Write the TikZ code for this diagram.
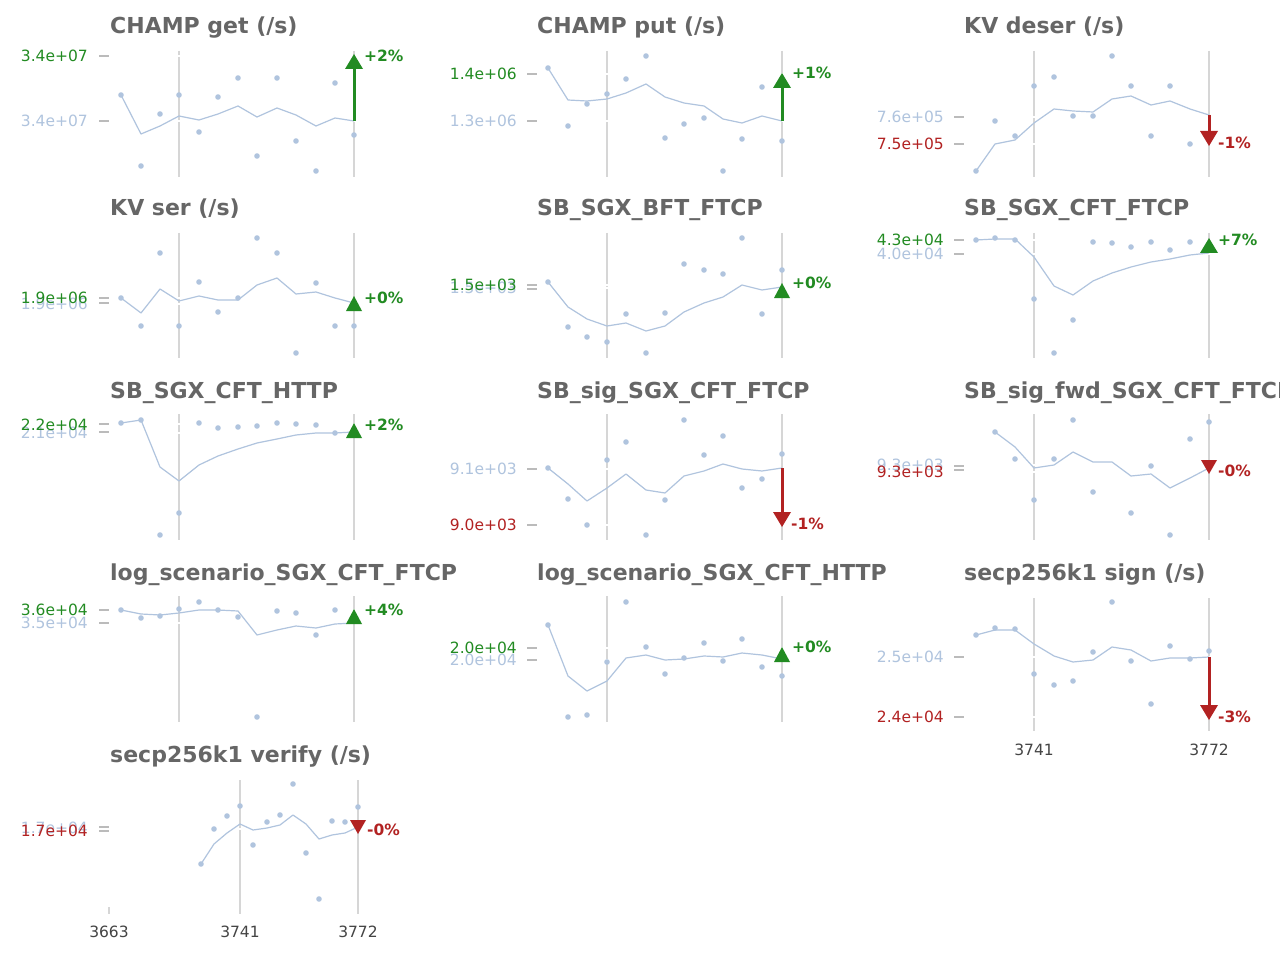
\documentclass[tikz,border=0pt]{standalone}
\usepackage{fontspec}
\setmainfont{DejaVu Sans}
\definecolor{lsb}{HTML}{B0C4DE}
\definecolor{fgc}{HTML}{228B22}
\definecolor{fbc}{HTML}{B22222}
\definecolor{ttlc}{HTML}{666666}
\definecolor{vlc}{HTML}{D6D6D6}
\definecolor{tkc}{HTML}{BBBBBB}
\definecolor{xlc}{HTML}{444444}
\newcommand\mygaps[2]{\foreach \gx in {#1}{\foreach \gy in {#2}{\draw[gapl] (\gx-2,\gy) -- (\gx+2,\gy);}}}
\newcommand\mydots[1]{\foreach \px/\py in {#1}{\fill[lsb] (\px,\py) circle[radius=2.8pt];}}
\begin{document}
\begin{tikzpicture}[x=1pt,y=-1pt,
  ttl/.style={anchor=base west,text=ttlc,font=\fontsize{22}{26}\selectfont\bfseries,inner sep=0pt},
  ylab/.style={anchor=east,font=\fontsize{15.5}{18}\selectfont,inner sep=0pt},
  pct/.style={anchor=west,font=\fontsize{15.5}{18}\selectfont\bfseries,inner sep=0pt},
  xlab/.style={anchor=center,text=xlc,font=\fontsize{15.5}{18}\selectfont,inner sep=0pt},
  vline/.style={draw=vlc,line width=2pt},
  gapl/.style={draw=white,line width=1.3pt},
  avgline/.style={draw=lsb,line width=1.2pt,line join=round},
  tickm/.style={draw=tkc,line width=2pt},
  shaft/.style={line width=3pt}]
\useasboundingbox (0,0) rectangle (1280,960);
\fill[white] (0,0) rectangle (1280,960);

% ===== Panel 1: CHAMP get =====
\node[ttl] (t1) at (110,34) {CHAMP get (/s)};
\draw[vline] (179,51) -- (179,177);
\draw[vline] (354,51) -- (354,177);
\mygaps{179,354}{56,121}
\draw[tickm] (99,56) -- (109,56);
\draw[tickm] (99,121) -- (109,121);
\node[ylab,text=lsb] (y1b) at (88,121) {3.4e+07};
\node[ylab,text=fgc] (y1a) at (88,56) {3.4e+07};
\draw[avgline] (121,95)--(141,134)--(160,126)--(179,116)--(199,120)--(218,114)--(238,106)--(257,117)--(277,108)--(296,115)--(316,126)--(335,118)--(354,121);
\mydots{121/95,141/166,160/114,179/95,199/132,218/97,238/78,257/156,277/78,296/141,316/171,335/83,354/135}
\draw[fgc,shaft] (354,121) -- (354,66);
\fill[fgc] (345,69) -- (363,69) -- (354,54) -- cycle;
\node[pct,text=fgc] (c1) at (364,56) {+2\%};

% ===== Panel 2: CHAMP put =====
\node[ttl] (t2) at (537,34) {CHAMP put (/s)};
\draw[vline] (607,51) -- (607,177);
\draw[vline] (782,51) -- (782,177);
\mygaps{607,782}{74,121}
\draw[tickm] (527,74) -- (537,74);
\draw[tickm] (527,121) -- (537,121);
\node[ylab,text=lsb] (y2b) at (517,121) {1.3e+06};
\node[ylab,text=fgc] (y2a) at (517,74) {1.4e+06};
\draw[avgline] (548,68)--(568,100)--(587,101)--(607,99)--(626,93)--(646,84)--(665,97)--(684,103)--(704,106)--(723,119)--(742,123)--(762,116)--(782,121);
\mydots{548/68,568/126,587/104,607/94,626/79,646/56,665/138,684/124,704/118,723/171,742/139,762/87,782/141}
\draw[fgc,shaft] (782,121) -- (782,85);
\fill[fgc] (773,88) -- (791,88) -- (782,73) -- cycle;
\node[pct,text=fgc] (c2) at (792,73) {+1\%};

% ===== Panel 3: KV deser =====
\node[ttl] (t3) at (964,34) {KV deser (/s)};
\draw[vline] (1034,51) -- (1034,177);
\draw[vline] (1209,51) -- (1209,177);
\mygaps{1034,1209}{117,144}
\draw[tickm] (954,117) -- (964,117);
\draw[tickm] (954,144) -- (964,144);
\node[ylab,text=lsb] (y3a) at (944,117) {7.6e+05};
\node[ylab,text=fbc] (y3b) at (944,144) {7.5e+05};
\draw[avgline] (976,171)--(995,144)--(1015,140)--(1034,123)--(1054,109)--(1073,111)--(1093,112)--(1112,99)--(1131,96)--(1151,105)--(1170,101)--(1190,109)--(1209,115);
\mydots{976/171,995/121,1015/136,1034/86,1054/77,1073/116,1093/116,1112/56,1131/86,1151/136,1170/86,1190/144}
\draw[fbc,shaft] (1209,115) -- (1209,134);
\fill[fbc] (1200,131) -- (1218,131) -- (1209,146) -- cycle;
\node[pct,text=fbc] (c3) at (1218,143) {-1\%};

% ===== Panel 4: KV ser =====
\node[ttl] (t4) at (110,216) {KV ser (/s)};
\draw[vline] (179,233) -- (179,358);
\draw[vline] (354,233) -- (354,358);
\mygaps{179,354}{298,304}
\draw[tickm] (99,298) -- (109,298);
\draw[tickm] (99,303) -- (109,303);
\node[ylab,text=lsb] (y4b) at (88,304) {1.9e+06};
\node[ylab,text=fgc] (y4a) at (88,298) {1.9e+06};
\draw[avgline] (121,298)--(141,313)--(160,289)--(179,301)--(199,296)--(218,300)--(238,300)--(257,285)--(277,278)--(296,294)--(316,292)--(335,298)--(354,303);
\mydots{121/298,141/326,160/253,179/326,199/282,218/312,238/298,257/238,277/253,296/353,316/283,335/326,354/326}
\fill[fgc] (346,311) -- (362,311) -- (354,296) -- cycle;
\node[pct,text=fgc] (c4) at (364,298) {+0\%};

% ===== Panel 5: SB_SGX_BFT_FTCP =====
\node[ttl] (t5) at (537,216) {SB\_SGX\_BFT\_FTCP};
\draw[vline] (607,233) -- (607,358);
\draw[vline] (782,233) -- (782,358);
\mygaps{607,782}{285,288}
\draw[tickm] (527,285) -- (537,285);
\draw[tickm] (527,289) -- (537,289);
\node[ylab,text=lsb] (y5b) at (517,288) {1.5e+03};
\node[ylab,text=fgc] (y5a) at (517,285) {1.5e+03};
\draw[avgline] (548,282)--(568,307)--(587,319)--(607,326)--(626,323)--(646,331)--(665,326)--(684,312)--(704,303)--(723,297)--(742,285)--(762,290)--(782,287);
\mydots{548/282,568/327,587/337,607/342,626/314,646/353,665/313,684/264,704/270,723/274,742/238,762/314,782/270}
\fill[fgc] (774,298) -- (790,298) -- (782,283) -- cycle;
\node[pct,text=fgc] (c5) at (792,283) {+0\%};

% ===== Panel 6: SB_SGX_CFT_FTCP =====
\node[ttl] (t6) at (964,216) {SB\_SGX\_CFT\_FTCP};
\draw[vline] (1034,233) -- (1034,358);
\draw[vline] (1209,233) -- (1209,358);
\mygaps{1034,1209}{240,254}
\draw[tickm] (954,240) -- (964,240);
\draw[tickm] (954,254) -- (964,254);
\node[ylab,text=lsb] (y6b) at (944,254) {4.0e+04};
\node[ylab,text=fgc] (y6a) at (944,240) {4.3e+04};
\draw[avgline] (976,240)--(995,239)--(1015,239)--(1034,257)--(1054,286)--(1073,295)--(1093,281)--(1112,273)--(1131,267)--(1151,262)--(1170,259)--(1190,255)--(1209,253);
\mydots{976/240,995/238,1015/240,1034/299,1054/353,1073/320,1093/242,1112/243,1131/247,1151/242,1170/250,1190/242}
\fill[fgc] (1200,253) -- (1218,253) -- (1209,238) -- cycle;
\node[pct,text=fgc] (c6) at (1218,240) {+7\%};

% ===== Panel 7: SB_SGX_CFT_HTTP =====
\node[ttl] (t7) at (110,398) {SB\_SGX\_CFT\_HTTP};
\draw[vline] (179,414) -- (179,540);
\draw[vline] (354,414) -- (354,540);
\mygaps{179,354}{424,433}
\draw[tickm] (99,424) -- (109,424);
\draw[tickm] (99,432) -- (109,432);
\node[ylab,text=lsb] (y7b) at (88,433) {2.1e+04};
\node[ylab,text=fgc] (y7a) at (88,425) {2.2e+04};
\draw[avgline] (121,423)--(141,420)--(160,467)--(179,481)--(199,465)--(218,456)--(238,449)--(257,443)--(277,439)--(296,435)--(316,433)--(335,433)--(354,432);
\mydots{121/423,141/420,160/535,179/513,199/423,218/428,238/427,257/426,277/423,296/424,316/425,335/433}
\fill[fgc] (346,438) -- (362,438) -- (354,423) -- cycle;
\node[pct,text=fgc] (c7) at (364,425) {+2\%};

% ===== Panel 8: SB_sig_SGX_CFT_FTCP =====
\node[ttl] (t8) at (537,398) {SB\_sig\_SGX\_CFT\_FTCP};
\draw[vline] (607,414) -- (607,540);
\draw[vline] (782,414) -- (782,540);
\mygaps{607,782}{469,525}
\draw[tickm] (527,469) -- (537,469);
\draw[tickm] (527,525) -- (537,525);
\node[ylab,text=lsb] (y8a) at (517,469) {9.1e+03};
\node[ylab,text=fbc] (y8b) at (517,525) {9.0e+03};
\draw[avgline] (548,468)--(568,484)--(587,501)--(607,488)--(626,474)--(646,490)--(665,493)--(684,476)--(704,471)--(723,464)--(742,469)--(762,471)--(782,468);
\mydots{548/468,568/499,587/525,607/460,626/442,646/535,665/500,684/420,704/455,723/436,742/488,762/479,782/454}
\draw[fbc,shaft] (782,468) -- (782,515);
\fill[fbc] (773,512) -- (791,512) -- (782,527) -- cycle;
\node[pct,text=fbc] (c8) at (791,524) {-1\%};

% ===== Panel 9: SB_sig_fwd_SGX_CFT_FTCP =====
\node[ttl] (t9) at (964,398) {SB\_sig\_fwd\_SGX\_CFT\_FTCP};
\draw[vline] (1034,414) -- (1034,540);
\draw[vline] (1209,414) -- (1209,540);
\mygaps{1034,1209}{465,472}
\draw[tickm] (954,466) -- (964,466);
\draw[tickm] (954,470) -- (964,470);
\node[ylab,text=lsb] (y9a) at (944,465) {9.3e+03};
\node[ylab,text=fbc] (y9b) at (944,472) {9.3e+03};
\draw[avgline] (995,432)--(1015,447)--(1034,468)--(1054,465)--(1073,452)--(1093,462)--(1112,462)--(1131,476)--(1151,474)--(1170,488)--(1190,478)--(1209,468);
\mydots{995/432,1015/459,1034/500,1054/459,1073/420,1093/492,1131/513,1151/466,1170/535,1190/439,1209/422}
\fill[fbc] (1201,460) -- (1217,460) -- (1209,474) -- cycle;
\node[pct,text=fbc] (c9) at (1218,471) {-0\%};

% ===== Panel 10: log_scenario_SGX_CFT_FTCP =====
\node[ttl] (t10) at (110,580) {log\_scenario\_SGX\_CFT\_FTCP};
\draw[vline] (179,596) -- (179,722);
\draw[vline] (354,596) -- (354,722);
\mygaps{179,354}{610,623}
\draw[tickm] (99,610) -- (109,610);
\draw[tickm] (99,623) -- (109,623);
\node[ylab,text=lsb] (y10b) at (88,623) {3.5e+04};
\node[ylab,text=fgc] (y10a) at (88,610) {3.6e+04};
\draw[avgline] (121,610)--(141,614)--(160,615)--(179,613)--(199,610)--(218,610)--(238,611)--(257,635)--(277,630)--(296,626)--(316,628)--(335,624)--(354,623);
\mydots{121/610,141/618,160/616,179/609,199/602,218/610,238/617,257/717,277/611,296/613,316/635,335/610}
\fill[fgc] (346,624) -- (362,624) -- (354,609) -- cycle;
\node[pct,text=fgc] (c10) at (364,610) {+4\%};

% ===== Panel 11: log_scenario_SGX_CFT_HTTP =====
\node[ttl] (t11) at (537,580) {log\_scenario\_SGX\_CFT\_HTTP};
\draw[vline] (607,596) -- (607,722);
\draw[vline] (782,596) -- (782,722);
\mygaps{607,782}{648,660}
\draw[tickm] (527,648) -- (537,648);
\draw[tickm] (527,660) -- (537,660);
\node[ylab,text=lsb] (y11b) at (517,660) {2.0e+04};
\node[ylab,text=fgc] (y11a) at (517,648) {2.0e+04};
\draw[avgline] (548,625)--(568,676)--(587,691)--(607,681)--(626,658)--(646,655)--(665,660)--(684,659)--(704,656)--(723,657)--(742,653)--(762,655)--(782,659);
\mydots{548/625,568/717,587/715,607/662,626/602,646/647,665/674,684/658,704/643,723/661,742/639,762/667,782/676}
\fill[fgc] (774,662) -- (790,662) -- (782,647) -- cycle;
\node[pct,text=fgc] (c11) at (792,647) {+0\%};

% ===== Panel 12: secp256k1 sign =====
\node[ttl] (t12) at (964,580) {secp256k1 sign (/s)};
\draw[vline] (1034,598) -- (1034,731);
\draw[vline] (1209,598) -- (1209,731);
\mygaps{1034,1209}{657,717}
\draw[tickm] (954,657) -- (964,657);
\draw[tickm] (954,717) -- (964,717);
\node[ylab,text=lsb] (y12a) at (944,657) {2.5e+04};
\node[ylab,text=fbc] (y12b) at (944,717) {2.4e+04};
\draw[avgline] (976,635)--(995,630)--(1015,630)--(1034,644)--(1054,656)--(1073,662)--(1093,660)--(1112,647)--(1131,650)--(1151,661)--(1170,658)--(1190,658)--(1209,657);
\mydots{976/635,995/628,1015/629,1034/674,1054/685,1073/681,1093/652,1112/602,1131/661,1151/704,1170/646,1190/659,1209/651}
\draw[fbc,shaft] (1209,657) -- (1209,708);
\fill[fbc] (1200,705) -- (1218,705) -- (1209,720) -- cycle;
\node[pct,text=fbc] (c12) at (1218,717) {-3\%};
\node[xlab] (x12a) at (1034,750) {3741};
\node[xlab] (x12b) at (1209,750) {3772};

% ===== Panel 13: secp256k1 verify =====
\node[ttl] (t13) at (110,762) {secp256k1 verify (/s)};
\draw[vline] (240,780) -- (240,914);
\draw[vline] (358,780) -- (358,914);
\draw[vline] (109,907) -- (109,914);
\mygaps{240,358}{829}
\draw[tickm] (99,827) -- (109,827);
\draw[tickm] (99,831) -- (109,831);
\node[ylab,text=lsb] (y13a) at (88,828) {1.7e+04};
\node[ylab,text=fbc] (y13b) at (88,831) {1.7e+04};
\draw[avgline] (201,864)--(214,844)--(227,833)--(240,824)--(253,830)--(267,828)--(280,825)--(293,815)--(306,824)--(319,839)--(332,835)--(345,833)--(358,827);
\mydots{201/864,214/829,227/816,240/806,253/845,267/822,280/815,293/784,306/853,319/899,332/821,345/822,358/807}
\fill[fbc] (350,820) -- (366,820) -- (358,834) -- cycle;
\node[pct,text=fbc] (c13) at (367,830) {-0\%};
\node[xlab] (x13a) at (109,932) {3663};
\node[xlab] (x13b) at (240,932) {3741};
\node[xlab] (x13c) at (358,932) {3772};
\end{tikzpicture}
\end{document}
